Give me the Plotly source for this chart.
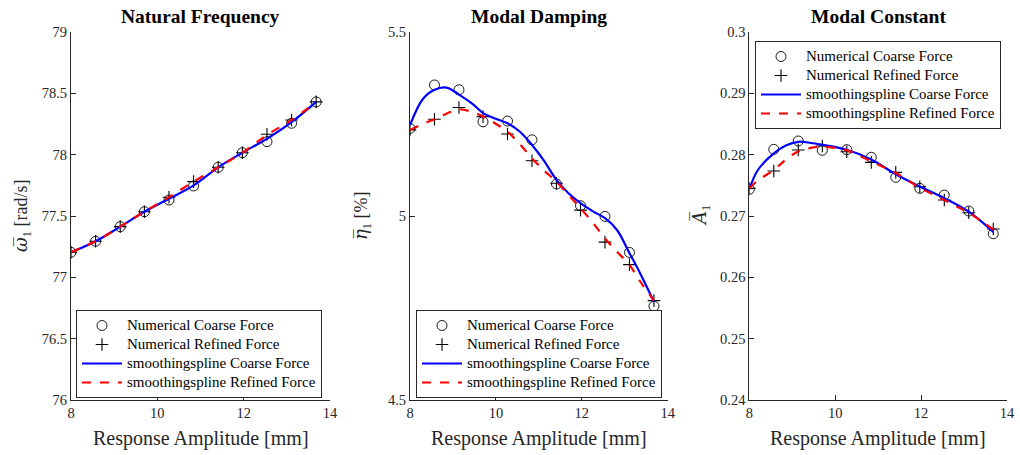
import plotly.graph_objects as go

# ---------------- data ----------------
AMP = [8.0, 8.57, 9.14, 9.70, 10.27, 10.84, 11.41, 11.97, 12.54, 13.11, 13.68]

FREQ_COARSE = [77.204, 77.294, 77.413, 77.535, 77.630, 77.745, 77.897, 78.016, 78.106, 78.256, 78.430]
FREQ_REFINED = [77.204, 77.294, 77.413, 77.535, 77.653, 77.780, 77.897, 78.016, 78.166, 78.283, 78.430]
FREQ_FIT_COARSE = [77.204, 77.294, 77.413, 77.535, 77.640, 77.750, 77.897, 78.016, 78.130, 78.265, 78.430]
FREQ_FIT_REFINED = [77.204, 77.294, 77.413, 77.535, 77.653, 77.780, 77.897, 78.016, 78.160, 78.283, 78.430]

DAMP_COARSE = [5.238, 5.356, 5.343, 5.256, 5.258, 5.207, 5.087, 5.028, 4.999, 4.901, 4.755]
DAMP_REFINED = [5.234, 5.263, 5.295, 5.270, 5.223, 5.150, 5.089, 5.016, 4.929, 4.868, 4.770]
DAMP_FIT_AMP = [8.0, 8.3, 8.57, 8.85, 9.14, 9.44, 9.71, 9.98, 10.27, 10.56, 10.84,
                11.11, 11.41, 11.69, 11.97, 12.27, 12.54, 12.82, 13.11, 13.36, 13.68]
DAMP_FIT_COARSE = [5.247, 5.318, 5.343, 5.349, 5.330, 5.306, 5.279, 5.265, 5.252, 5.229, 5.193,
                   5.152, 5.098, 5.062, 5.035, 5.012, 4.994, 4.962, 4.899, 4.844, 4.767]
DAMP_FIT_REFINED = [5.234, 5.250, 5.263, 5.278, 5.290, 5.283, 5.270, 5.252, 5.229, 5.195, 5.157,
                    5.125, 5.093, 5.057, 5.021, 4.980, 4.939, 4.903, 4.867, 4.822, 4.770]

CONST_COARSE = [0.27435, 0.28087, 0.28223, 0.28071, 0.28081, 0.27957, 0.27631, 0.27451, 0.27342, 0.27081, 0.26711]
CONST_REFINED = [0.27451, 0.27734, 0.28076, 0.28141, 0.28048, 0.27875, 0.27712, 0.27478, 0.27261, 0.27054, 0.26788]
CONST_FIT_AMP = [8.0, 8.2, 8.57, 8.85, 9.14, 9.44, 9.71, 10.27, 10.84, 11.41, 11.97, 12.54, 13.11, 13.68]
CONST_FIT_COARSE = [0.27435, 0.2775, 0.2802, 0.2815, 0.2821, 0.2819, 0.2816, 0.2808, 0.2792,
                    0.2768, 0.2748, 0.2729, 0.2707, 0.2674]
CONST_FIT_REFINED = [0.27451, 0.2758, 0.2775, 0.2792, 0.2805, 0.2811, 0.2813, 0.2807, 0.2789,
                     0.2770, 0.2746, 0.2726, 0.2705, 0.2678]

TITLES = ["Natural Frequency", "Modal Damping", "Modal Constant"]
SYM = '<span style="font-family:DejaVu Serif">'
YLABELS = [SYM + "<i>ω\u0305</i></span><sub>1</sub> [rad/s]",
           SYM + "<i>η\u0305</i></span><sub>1</sub> [%]",
           SYM + "<i>A\u0305</i></span><sub>1</sub>"]
XLABEL = "Response Amplitude [mm]"
XTICKS = [8, 10, 12, 14]
YTICKS = [
    [76, 76.5, 77, 77.5, 78, 78.5, 79],
    [4.5, 5, 5.5],
    [0.24, 0.25, 0.26, 0.27, 0.28, 0.29, 0.3],
]
YTICKTEXT = [
    ["76", "76.5", "77", "77.5", "78", "78.5", "79"],
    ["4.5", "5", "5.5"],
    ["0.24", "0.25", "0.26", "0.27", "0.28", "0.29", "0.3"],
]
YRANGES = [[76, 79], [4.5, 5.5], [0.24, 0.3]]
NAMES = ["Numerical Coarse Force", "Numerical Refined Force",
         "smoothingspline Coarse Force", "smoothingspline Refined Force"]

# ---------------- layout geometry ----------------
W, H = 1020, 455
X_DOMAINS = [(71, 330), (410, 667.7), (749.3, 1007)]
TOP, BOTTOM = 32, 400
FONT = "Liberation Serif, Times New Roman, serif"
LEG_TXT = '<span style="font-size:15px">%s</span>'

fig = go.Figure()

panels = [
    (AMP, FREQ_COARSE, FREQ_REFINED, AMP, FREQ_FIT_COARSE, FREQ_FIT_REFINED),
    (AMP, DAMP_COARSE, DAMP_REFINED, DAMP_FIT_AMP, DAMP_FIT_COARSE, DAMP_FIT_REFINED),
    (AMP, CONST_COARSE, CONST_REFINED, CONST_FIT_AMP, CONST_FIT_COARSE, CONST_FIT_REFINED),
]
legend_ids = ["legend", "legend2", "legend3"]

for i, (xa, yc, yr, xf, fc, fr) in enumerate(panels):
    ax = "" if i == 0 else str(i + 1)
    common = dict(xaxis="x" + ax, yaxis="y" + ax, legend=legend_ids[i])
    fig.add_trace(go.Scatter(x=xa, y=yc, mode="markers", name=LEG_TXT % NAMES[0],
                             marker=dict(symbol="circle-open", size=10, color="black",
                                         line=dict(width=0.9, color="black")), **common))
    fig.add_trace(go.Scatter(x=xa, y=yr, mode="markers", name=LEG_TXT % NAMES[1],
                             marker=dict(symbol="cross-thin-open", size=9, color="black",
                                         line=dict(width=1.1, color="black")), **common))
    fig.add_trace(go.Scatter(x=xf, y=fc, mode="lines", name=LEG_TXT % NAMES[2],
                             line=dict(color="#0000ff", width=2.2, shape="spline", smoothing=1.0),
                             **common))
    fig.add_trace(go.Scatter(x=xf, y=fr, mode="lines", name=LEG_TXT % NAMES[3],
                             line=dict(color="#ff0000", width=2.2, dash="dash", shape="spline",
                                       smoothing=1.0), **common))

ydom = [1 - BOTTOM / H, 1 - TOP / H]
annotations = []
# (left x, y, anchor)
legend_pos = [(76, 398, "bottom"), (416, 398, "bottom"), (755, 41, "top")]
for i in range(3):
    ax = "" if i == 0 else str(i + 1)
    x0, x1 = X_DOMAINS[i]
    fig.layout["xaxis" + ax] = dict(
        domain=[x0 / W, x1 / W], range=[8, 14], tickvals=XTICKS,
        ticks="inside", ticklen=5, tickcolor="#262626", tickwidth=1,
        showline=True, linecolor="#262626", linewidth=1, mirror=False,
        showgrid=False, zeroline=False, anchor="y" + ax, automargin=False,
        tickfont=dict(family=FONT, size=14.5, color="#262626"),
    )
    fig.layout["yaxis" + ax] = dict(
        domain=ydom, range=YRANGES[i], tickvals=YTICKS[i], ticktext=YTICKTEXT[i],
        ticks="inside", ticklen=5, tickcolor="#262626", tickwidth=1,
        showline=True, linecolor="#262626", linewidth=1, mirror=False,
        showgrid=False, zeroline=False, anchor="x" + ax, automargin=False,
        tickfont=dict(family=FONT, size=14.5, color="#262626"),
    )
    cx = (x0 + x1) / 2 / W
    annotations.append(dict(text="<b>" + TITLES[i] + "</b>", x=cx, y=1 - 17 / H,
                            xref="paper", yref="paper", showarrow=False,
                            font=dict(family=FONT, size=19.5, color="black"),
                            xanchor="center", yanchor="middle"))
    annotations.append(dict(text=XLABEL, x=cx, y=1 - 438 / H, xref="paper", yref="paper",
                            showarrow=False, font=dict(family=FONT, size=20, color="#262626"),
                            xanchor="center", yanchor="middle"))
    ylab_x = [(22), (362), (701)][i]
    annotations.append(dict(text=YLABELS[i], x=ylab_x / W, y=1 - 216 / H, xref="paper",
                            yref="paper", showarrow=False, textangle=-90,
                            font=dict(family=FONT, size=18, color="#262626"),
                            xanchor="center", yanchor="middle"))
    lx, ly, anc = legend_pos[i]
    fig.layout[legend_ids[i]] = dict(
        x=lx / W, y=1 - ly / H, xanchor="left", yanchor=anc, xref="paper", yref="paper",
        bgcolor="white", bordercolor="#262626", borderwidth=1,
        font=dict(family=FONT, size=12, color="black"),
        tracegroupgap=0, itemwidth=40,
    )

fig.update_layout(
    width=W, height=H, margin=dict(l=0, r=0, t=0, b=0, autoexpand=False),
    paper_bgcolor="white", plot_bgcolor="white",
    annotations=annotations, showlegend=True,
)

fig.write_html("out.html", config={"displayModeBar": False},
               post_script="document.body.style.margin='0';document.body.style.overflow='hidden';")
